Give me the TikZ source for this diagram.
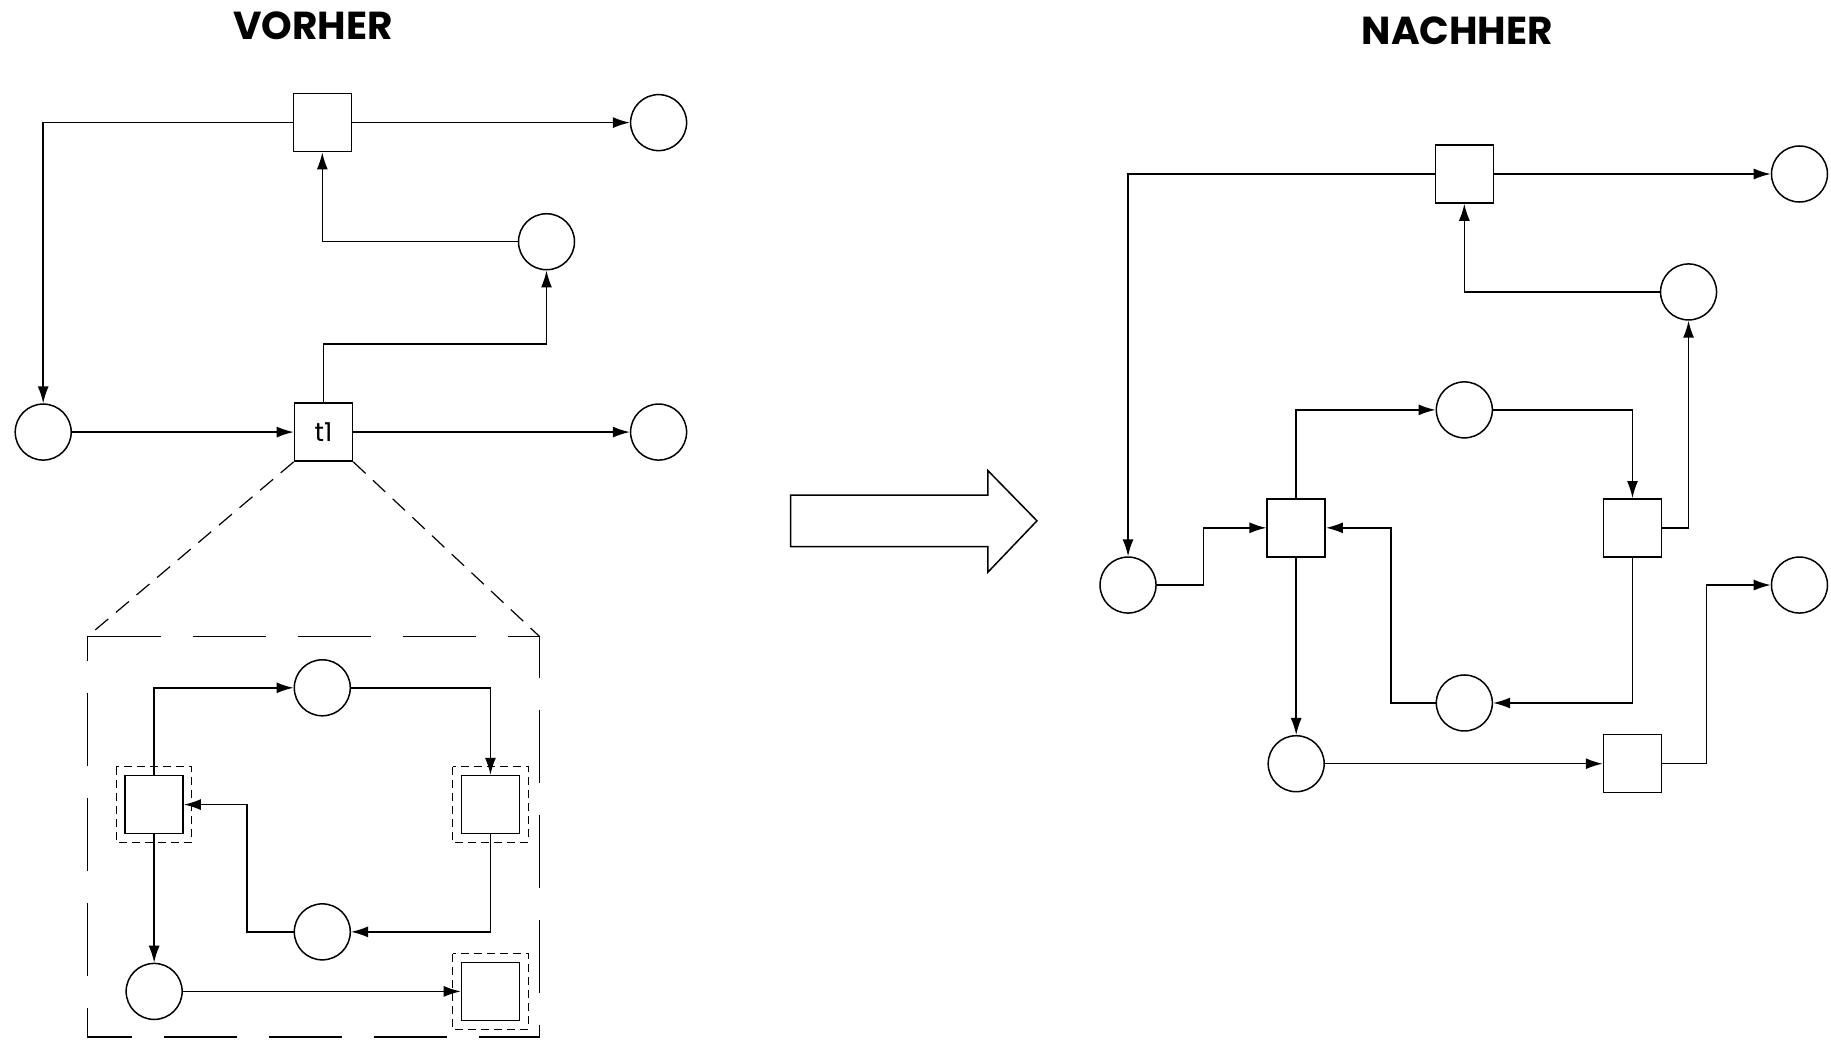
\documentclass[tikz,border=0pt]{standalone}
\usepackage{fontspec}
\setmainfont{Poppins}
\usetikzlibrary{arrows.meta}
\begin{document}
\begin{tikzpicture}[x=1.1677pt,y=-1.1677pt,
  pl/.style={circle,draw,line width=1.5pt,minimum size=56pt,inner sep=0pt},
  tr/.style={rectangle,draw,line width=1.5pt,minimum size=58pt,inner sep=0pt},
  arc/.style={line width=1.5pt,-{Latex[length=17pt,width=11pt]}},
  title/.style={font=\bfseries\fontsize{39}{44}\selectfont},
  hlbox/.style={line width=1.1pt,dash pattern=on 8pt off 5pt},
  zoomline/.style={line width=1.2pt,dash pattern=on 17pt off 10pt},
  frame/.style={line width=1.5pt,dash pattern=on 73pt off 32pt}]
\useasboundingbox (0,0) rectangle (1568,890);
\fill[white] (0,0) rectangle (1568,890);
% titles
\node[title] (tv) at (268,22) {VORHER};
\node[title] (tn) at (1248,26) {NACHHER};
% ---------- left: before ----------
\node[tr] (Lt) at (276,105) {};
\node[pl] (Ltr) at (564,105) {};
\node[pl] (L2) at (468,207) {};
\node[pl] (L0) at (37,370) {};
\node[tr,font=\fontsize{26}{28}\selectfont] (t1) at (277,370) {t1};
\node[pl] (L3) at (564,370) {};
\draw[arc] (Lt) -- (Ltr);
\draw[arc] (Lt.west) -| (L0.north);
\draw[arc] (L2.west) -| (Lt.south);
\draw[arc] (t1.north) -- ++(0,-50) -| (L2.south);
\draw[arc] (L0) -- (t1);
\draw[arc] (t1) -- (L3);
% zoom frame
\coordinate (fl) at (75,545);
\coordinate (fr) at (462,545);
\draw[zoomline] (t1.south west) -- (fl);
\draw[zoomline] (t1.south east) -- (fr);
\draw[frame] (fl) -- (fr) -- (462,888) -- (75,888) -- cycle;
% inner net
\node[pl] (Pa) at (276,589) {};
\node[tr] (Ta) at (132,689) {};
\node[tr] (Tb) at (420,689) {};
\node[pl] (Pb) at (276,798) {};
\node[pl] (Pc) at (132,849) {};
\node[tr] (Tc) at (420,849) {};
\draw[hlbox] ([shift={(-8pt,8pt)}]Ta.north west) rectangle ([shift={(8pt,-8pt)}]Ta.south east);
\draw[hlbox] ([shift={(-8pt,8pt)}]Tb.north west) rectangle ([shift={(8pt,-8pt)}]Tb.south east);
\draw[hlbox] ([shift={(-8pt,8pt)}]Tc.north west) rectangle ([shift={(8pt,-8pt)}]Tc.south east);
\draw[arc] (Ta.north) |- (Pa.west);
\draw[arc] (Pa.east) -| (Tb.north);
\draw[arc] (Tb.south) |- (Pb.east);
\draw[arc] (Pb.west) -- ++(-40,0) |- (Ta.east);
\draw[arc] (Ta.south) -- (Pc.north);
\draw[arc] (Pc) -- (Tc);
% ---------- block arrow ----------
\draw[line width=1.5pt,line join=miter] (677,424) -- (846,424) -- (846,403) -- (888,446) -- (846,490) -- (846,468) -- (677,468) -- cycle;
% ---------- right: after ----------
\node[tr] (Rt) at (1254,149) {};
\node[pl] (Rtr) at (1541,149) {};
\node[pl] (R2) at (1446,250) {};
\node[pl] (R0) at (966,501) {};
\node[tr] (Ra) at (1110,452) {};
\node[tr] (Rb) at (1398,452) {};
\node[pl] (Rpa) at (1254,351) {};
\node[pl] (Rpb) at (1254,602) {};
\node[pl] (Rpc) at (1110,654) {};
\node[tr] (Rc) at (1398,654) {};
\node[pl] (R3) at (1541,501) {};
\draw[arc] (Rt) -- (Rtr);
\draw[arc] (Rt.west) -| (R0.north);
\draw[arc] (R2.west) -| (Rt.south);
\draw[arc] (Rb.east) -| (R2.south);
\draw[arc] (R0.east) -- ++(40,0) |- (Ra.west);
\draw[arc] (Ra.north) |- (Rpa.west);
\draw[arc] (Rpa.east) -| (Rb.north);
\draw[arc] (Rb.south) |- (Rpb.east);
\draw[arc] (Rpb.west) -- ++(-38,0) |- (Ra.east);
\draw[arc] (Ra.south) -- (Rpc.north);
\draw[arc] (Rpc) -- (Rc);
\draw[arc] (Rc.east) -- ++(38,0) |- (R3.west);
\end{tikzpicture}
\end{document}
